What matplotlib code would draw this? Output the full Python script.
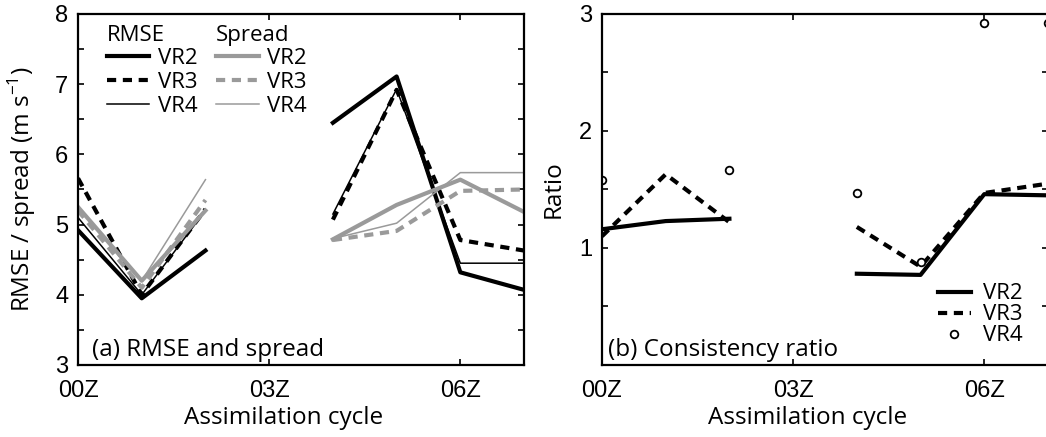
import numpy as np
import matplotlib
matplotlib.use('Agg')
import matplotlib.pyplot as plt
from matplotlib.lines import Line2D

# assimilation cycles (hours after 00Z), no cycle at 03Z
cycles = [0, 1, 2, 3, 4, 5, 6, 7]
tick_pos = [0, 3, 6]
tick_labels = ['00Z', '03Z', '06Z']

nan = np.nan
# RMSE of each run (m/s)
rmse_vr2 = [4.92, 3.95, 4.63, nan, 6.45, 7.11, 4.32, 4.07]
rmse_vr3 = [5.66, 4.00, 5.22, nan, 5.07, 6.92, 4.78, 4.63]
rmse_vr4 = [5.10, 4.00, 5.20, nan, 5.15, 6.93, 4.45, 4.45]
# ensemble spread (m/s)
spread_vr2 = [5.25, 4.20, 5.20, nan, 4.79, 5.28, 5.64, 5.18]
spread_vr3 = [5.20, 4.10, 5.35, nan, 4.78, 4.91, 5.48, 5.50]
spread_vr4 = [5.25, 4.20, 5.64, nan, 4.80, 5.02, 5.74, 5.74]
# consistency ratio
ratio_vr2 = [1.16, 1.23, 1.25, nan, 0.78, 0.77, 1.46, 1.45]
ratio_vr3 = [1.10, 1.63, 1.22, nan, 1.18, 0.84, 1.47, 1.55]
ratio_vr4 = [1.58, nan, 1.67, nan, 1.47, 0.88, 2.92, 2.92]

plt.rcParams['font.family'] = 'Open Sans'
gray = '#9a9a9a'
dash = (2.2, 1.6)
thick, thin = 3.0, 1.1
fs = 17.5

fig = plt.figure(figsize=(10.46, 4.37), dpi=100)
ax1 = fig.add_axes([0.0746, 0.1648, 0.4264, 0.8032])
ax2 = fig.add_axes([0.5755, 0.1648, 0.4264, 0.8032])

# (a) RMSE and spread
ax1.plot(cycles, rmse_vr2, color='k', lw=thick)
ax1.plot(cycles, rmse_vr3, color='k', lw=thick, ls=(0, dash))
ax1.plot(cycles, rmse_vr4, color='k', lw=thin)
ax1.plot(cycles, spread_vr2, color=gray, lw=thick)
ax1.plot(cycles, spread_vr3, color=gray, lw=thick, ls=(0, dash))
ax1.plot(cycles, spread_vr4, color=gray, lw=thin)
ax1.set_ylim(3, 8)
ax1.set_yticks(np.arange(3, 9, 1))
ax1.set_yticks(np.arange(3, 8.01, 0.5), minor=True)
ax1.set_ylabel(r'RMSE / spread (m s$^{\mathregular{-1}}$)', fontsize=fs)
ax1.text(0.031, 0.042, '(a) RMSE and spread', transform=ax1.transAxes,
         fontsize=fs, va='center')

rmse_handles = [Line2D([], [], color='k', lw=thick),
                Line2D([], [], color='k', lw=thick, ls=(0, dash)),
                Line2D([], [], color='k', lw=thin)]
spread_handles = [Line2D([], [], color=gray, lw=thick),
                  Line2D([], [], color=gray, lw=thick, ls=(0, dash)),
                  Line2D([], [], color=gray, lw=thin)]
names = ['VR2', 'VR3', 'VR4']
leg_kw = dict(frameon=False, fontsize=16, title_fontsize=16, alignment='left',
              handlelength=1.9, handletextpad=0.4, labelspacing=0.12,
              borderpad=0, borderaxespad=0, loc='upper left')
leg1 = ax1.legend(rmse_handles, names, title='RMSE',
                  bbox_to_anchor=(0.065, 0.97), **leg_kw)
ax1.add_artist(leg1)
ax1.legend(spread_handles, names, title='Spread',
           bbox_to_anchor=(0.31, 0.97), **leg_kw)

# (b) consistency ratio
ax2.plot(cycles, ratio_vr2, color='k', lw=thick, label='VR2')
ax2.plot(cycles, ratio_vr3, color='k', lw=thick, ls=(0, dash), label='VR3')
ax2.plot(cycles, ratio_vr4, ls='none', marker='o', ms=5.5, mfc='white',
         mec='k', mew=1.3, label='VR4')
ax2.set_ylim(0, 3)
ax2.set_yticks([1, 2, 3])
ax2.set_yticks(np.arange(0, 3.01, 0.5), minor=True)
ax2.set_ylabel('Ratio', fontsize=fs)
ax2.text(0.013, 0.042, '(b) Consistency ratio', transform=ax2.transAxes,
         fontsize=fs, va='center')
ax2.legend(loc='lower right', bbox_to_anchor=(0.944, 0.053), frameon=False,
           fontsize=16, handlelength=1.5, handletextpad=0.55, labelspacing=0.0,
           borderpad=0, borderaxespad=0)

for ax in (ax1, ax2):
    ax.set_xlim(0, 7)
    ax.set_xticks(tick_pos)
    ax.set_xticklabels(tick_labels)
    ax.set_xlabel('Assimilation cycle', fontsize=fs)
    ax.xaxis.set_label_coords(0.46, -0.117)
    ax.tick_params(which='both', direction='in', top=True, right=True,
                   length=4, width=1.2, labelsize=17,
                   labelfontfamily='Liberation Sans')
    ax.tick_params(axis='x', pad=11)
    ax.tick_params(axis='y', pad=7)
    for sp in ax.spines.values():
        sp.set_linewidth(1.6)

ax1.yaxis.set_label_coords(-0.09, 0.5)
ax2.yaxis.set_label_coords(-0.082, 0.5)

fig.savefig('out.png', dpi=100)
